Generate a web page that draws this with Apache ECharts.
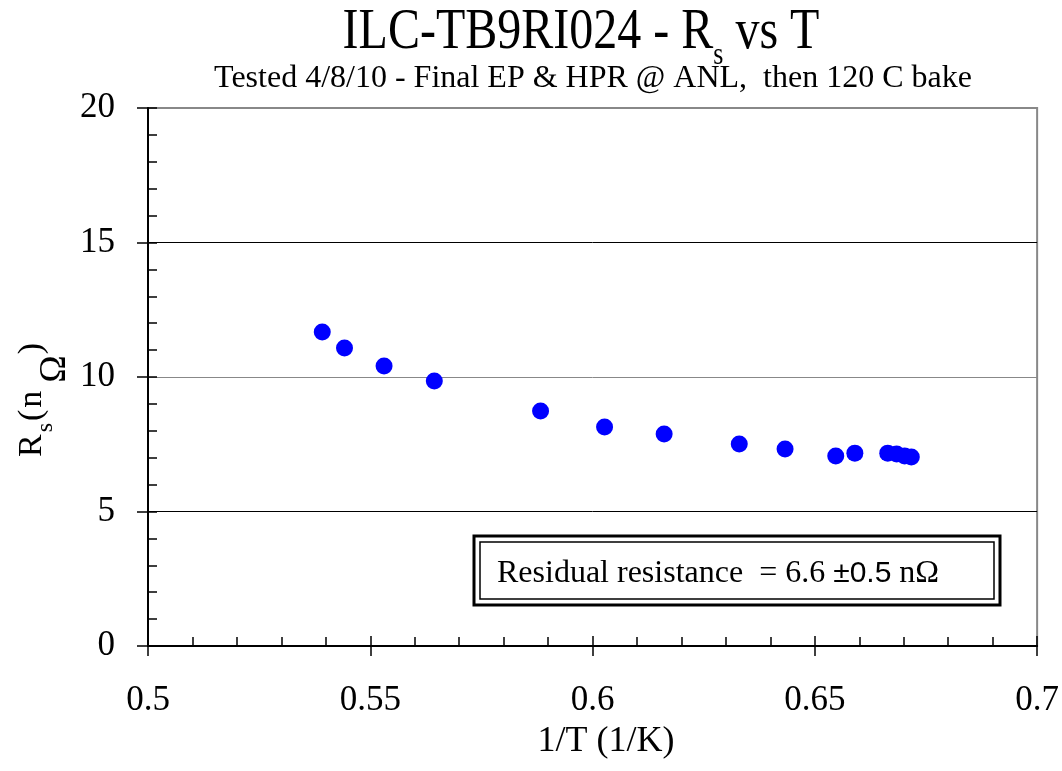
<!DOCTYPE html>
<html>
<head>
<meta charset="utf-8">
<script src="https://cdn.jsdelivr.net/npm/echarts@6/dist/echarts.min.js"></script>
<style>html,body{margin:0;padding:0;background:#fff}#c{width:1062px;height:771px}</style>
</head>
<body>
<div id="c"></div>
<script>
// Data
const invT = [0.5392, 0.5442, 0.5531, 0.5644, 0.5883, 0.6027, 0.6161, 0.6330, 0.6433, 0.6547, 0.6590, 0.6664, 0.6684, 0.6702, 0.6717];
const rs   = [11.67, 11.08, 10.41, 9.85, 8.74, 8.14, 7.88, 7.51, 7.32, 7.06, 7.17, 7.17, 7.14, 7.06, 7.03];
const xTicks = [0.5, 0.55, 0.6, 0.65, 0.7];
const yTicks = [0, 5, 10, 15, 20];
const titleMain = 'ILC-TB9RI024 - R';
const titleSub = 's';
const titleTail = ' vs T';
const subtitle = 'Tested 4/8/10 - Final EP & HPR @ ANL,  then 120 C bake';
const xName = '1/T (1/K)';
const residualText = ['Residual resistance  = 6.6 ', '±0.5', ' nΩ'];

const serif = 'Liberation Serif';
const chart = echarts.init(document.getElementById('c'), null, {renderer: 'canvas'});
const points = invT.map((x, i) => [x, rs[i]]);

const xCommon = {
  type: 'value', min: xTicks[0], max: xTicks[xTicks.length - 1], interval: 0.05,
  position: 'bottom'
};
const yCommon = {
  type: 'value', min: yTicks[0], max: yTicks[yTicks.length - 1], interval: 5,
  position: 'left'
};

chart.setOption({
  animation: false,
  backgroundColor: '#fff',
  grid: {left: 148, top: 108, right: 22, bottom: 125, show: true, borderColor: '#888', borderWidth: 2, backgroundColor: 'transparent'},
  xAxis: [
    Object.assign({}, xCommon, {
      axisLine: {show: true, lineStyle: {color: '#000', width: 2}},
      axisTick: {show: true, inside: false, length: 10, lineStyle: {color: '#000', width: 1.5}},
      minorTick: {show: false},
      axisLabel: {fontFamily: serif, fontSize: 35, color: '#000', margin: 37,
        formatter: v => String(+v.toFixed(2))},
      splitLine: {show: false}
    }),
    Object.assign({}, xCommon, {
      axisLine: {show: false},
      axisTick: {show: true, inside: true, length: 10, lineStyle: {color: '#000', width: 1.5}},
      minorTick: {show: true, splitNumber: 5, length: 9, lineStyle: {color: '#000', width: 1.5}},
      axisLabel: {show: false},
      splitLine: {show: false}
    })
  ],
  yAxis: [
    Object.assign({}, yCommon, {
      axisLine: {show: true, lineStyle: {color: '#000', width: 2}},
      axisTick: {show: true, inside: false, length: 11, lineStyle: {color: '#000', width: 1.5}},
      minorTick: {show: false},
      axisLabel: {fontFamily: serif, fontSize: 35, color: '#000', margin: 33},
      splitLine: {show: true, lineStyle: {color: ['#000', '#000', '#888', '#000', '#888'], width: 1}}
    }),
    Object.assign({}, yCommon, {
      axisLine: {show: false},
      axisTick: {show: true, inside: true, length: 9, lineStyle: {color: '#000', width: 1.5}},
      minorTick: {show: true, splitNumber: 5, length: 9, lineStyle: {color: '#000', width: 1.5}},
      axisLabel: {show: false},
      splitLine: {show: false}
    })
  ],
  series: [{
    type: 'scatter', xAxisIndex: 0, yAxisIndex: 0,
    data: points, symbol: 'circle', symbolSize: 17,
    itemStyle: {color: '#0000ff', opacity: 1}
  }],
  graphic: [
    {
      type: 'text', x: 581, y: 4, scaleY: 1.2, z: 10,
      style: {
        text: '{a|' + titleMain + '}{b|' + titleSub + '}{a|' + titleTail + '}',
        align: 'center', verticalAlign: 'top',
        rich: {
          a: {fontFamily: serif, fontSize: 48, verticalAlign: 'top', fill: '#000'},
          b: {fontFamily: serif, fontSize: 26, verticalAlign: 'top', padding: [30, 0, 0, 0], fill: '#000'}
        }
      }
    },
    {
      type: 'text', x: 593, y: 63, z: 10,
      style: {text: subtitle, fontFamily: serif, fontSize: 32, fill: '#000', align: 'center', verticalAlign: 'top'}
    },
    {
      type: 'text', x: 606, y: 742, z: 10,
      style: {text: xName, fontFamily: serif, fontSize: 36, fill: '#000', align: 'center', verticalAlign: 'middle'}
    },
    {
      type: 'text', x: 15, y: 457, rotation: Math.PI / 2, z: 10,
      style: {
        text: '{a|R}{s|s}{p|(}{n|n}{o|Ω}{a|)}',
        verticalAlign: 'top',
        rich: {
          a: {fontFamily: serif, fontSize: 34, verticalAlign: 'top', fill: '#000'},
          s: {fontFamily: serif, fontSize: 24, verticalAlign: 'top', padding: [19, 2, 0, 2], fill: '#000'},
          p: {fontFamily: serif, fontSize: 34, verticalAlign: 'top', padding: [0, 2, 0, 0], fill: '#000'},
          n: {fontFamily: serif, fontSize: 34, verticalAlign: 'top', padding: [0, 8, 0, 0], fill: '#000'},
          o: {fontFamily: serif, fontSize: 37, verticalAlign: 'top', padding: [22, 1, 0, 0], fill: '#000'}
        }
      }
    },
    {
      type: 'rect', z: 10,
      shape: {x: 474, y: 536, width: 526, height: 69},
      style: {fill: '#fff', stroke: '#000', lineWidth: 3}
    },
    {
      type: 'rect', z: 11,
      shape: {x: 480, y: 542, width: 514, height: 57},
      style: {fill: 'none', stroke: '#000', lineWidth: 1.5}
    },
    {
      type: 'text', x: 497, y: 558, z: 12,
      style: {
        text: '{a|' + residualText[0] + '}{c|' + residualText[1] + '}{a|' + residualText[2] + '}',
        verticalAlign: 'top',
        rich: {
          a: {fontFamily: serif, fontSize: 32, fill: '#000', verticalAlign: 'top'},
          c: {fontFamily: 'Liberation Sans', fontSize: 30, fill: '#000', verticalAlign: 'top', padding: [1, 0, 0, 0]}
        }
      }
    }
  ]
});
</script>
</body>
</html>
